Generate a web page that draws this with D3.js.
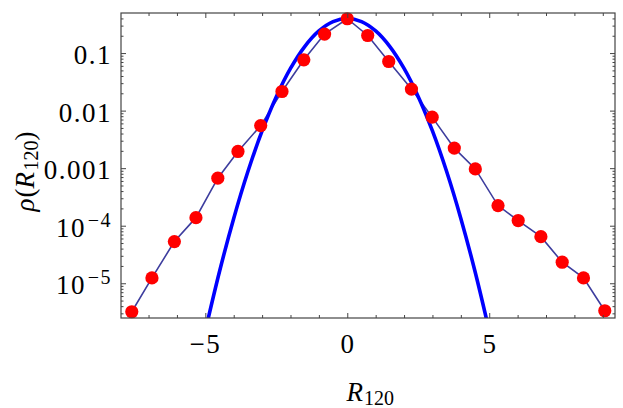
<!DOCTYPE html>
<html>
<head>
<meta charset="utf-8">
<script src="https://cdn.jsdelivr.net/npm/d3@7"></script>
</head>
<body style="margin:0">
<script>
// red sample points
const sampleX = [-7.59, -6.88, -6.09, -5.33, -4.56, -3.85, -3.05, -2.30, -1.53, -0.80, 0,
                 0.72, 1.46, 2.26, 2.99, 3.77, 4.51, 5.31, 6.02, 6.82, 7.57, 8.32, 9.07];
const sampleRho = [3.2e-6, 1.24e-5, 5.3e-5, 1.38e-4, 6.7e-4, 1.95e-3, 5.5e-3, 0.0215, 0.0764, 0.214, 0.395,
                   0.202, 0.0714, 0.0237, 7.7e-3, 2.23e-3, 9.7e-4, 2.24e-4, 1.23e-4, 6.46e-5, 2.32e-5, 1.24e-5, 3.33e-6];

// blue reference curve
const curveX = [-5, -4.5, -4, -3.5, -3, -2.5, -2, -1.5, -1, -0.5, 0, 0.5, 1, 1.5, 2, 2.5, 3, 3.5, 4, 4.5, 5];
const curveRho = [1.49e-6, 1.60e-5, 1.34e-4, 8.73e-4, 4.43e-3, 0.0175, 0.0540, 0.1295, 0.242, 0.352, 0.399,
                  0.352, 0.242, 0.1295, 0.0540, 0.0175, 4.43e-3, 8.73e-4, 1.34e-4, 1.60e-5, 1.49e-6];

const xTicks = [-5, 0, 5];
const xTickLabels = ['\u22125', '0', '5'];
const yTicks = [0.1, 0.01, 0.001, 1e-4, 1e-5];
const yTickLabels = [['0.1'], ['0.01'], ['0.001'], ['10', '\u22124'], ['10', '\u22125']];

const FONT = 'Liberation Serif';

let margin = { top: 13, left: 121, right: 8, bottom: 90 },
    W = 623, H = 408,
    width = W - margin.left - margin.right,
    height = H - margin.top - margin.bottom;

let svg = d3.select('body').append('svg')
  .attr('width', W).attr('height', H);

let xScale = d3.scaleLinear().domain([-7.97, 9.43]).range([margin.left, margin.left + width]);
let yScale = d3.scaleLog().domain([2.49e-6, 0.497]).range([margin.top + height, margin.top]);

svg.append('clipPath').attr('id', 'clip')
  .append('rect').attr('x', margin.left).attr('y', margin.top)
  .attr('width', width).attr('height', height);

let plot = svg.append('g').attr('clip-path', 'url(#clip)');

// connecting line
plot.append('path')
  .datum(sampleX.map((x, i) => [x, sampleRho[i]]))
  .attr('fill', 'none')
  .attr('stroke', '#3d3d9e')
  .attr('stroke-width', 1.6)
  .attr('d', d3.line().x(d => xScale(d[0])).y(d => yScale(d[1])));

// blue curve
plot.append('path')
  .datum(curveX.map((x, i) => [x, curveRho[i]]))
  .attr('fill', 'none')
  .attr('stroke', '#0000ff')
  .attr('stroke-width', 3.6)
  .attr('d', d3.line().curve(d3.curveCatmullRom.alpha(0.5)).x(d => xScale(d[0])).y(d => yScale(d[1])));

// points
svg.selectAll('.pt')
  .data(sampleX.map((x, i) => [x, sampleRho[i]]))
  .enter().append('circle')
  .attr('class', 'pt')
  .attr('cx', d => xScale(d[0]))
  .attr('cy', d => yScale(d[1]))
  .attr('r', 6.6)
  .attr('fill', '#ff0000');

// frame axes, ticks pointing inward
let frameColor = '#444';
let xMinor = d3.range(-7, 10, 1).filter(v => !xTicks.includes(v));
let yMinor = [];
for (let e = -6; e <= -1; e++) {
  for (let k = 2; k <= 9; k++) {
    let v = k * Math.pow(10, e);
    if (v > 2.49e-6 && v < 0.497) yMinor.push(v);
  }
}

function xAxis(gen, major) {
  return gen(xScale).tickValues(major ? xTicks : xMinor).tickFormat('')
    .tickSizeInner(major ? -5 : -3).tickSizeOuter(0);
}
function yAxis(gen, major) {
  return gen(yScale).tickValues(major ? yTicks : yMinor).tickFormat('')
    .tickSizeInner(major ? -5 : -2.5).tickSizeOuter(0);
}

let bottomY = margin.top + height, rightX = margin.left + width;
let axes = [
  svg.append('g').attr('transform', 'translate(0,' + bottomY + ')').call(xAxis(d3.axisBottom, true)),
  svg.append('g').attr('transform', 'translate(0,' + bottomY + ')').call(xAxis(d3.axisBottom, false)),
  svg.append('g').attr('transform', 'translate(0,' + margin.top + ')').call(xAxis(d3.axisTop, true)),
  svg.append('g').attr('transform', 'translate(0,' + margin.top + ')').call(xAxis(d3.axisTop, false)),
  svg.append('g').attr('transform', 'translate(' + margin.left + ',0)').call(yAxis(d3.axisLeft, true)),
  svg.append('g').attr('transform', 'translate(' + margin.left + ',0)').call(yAxis(d3.axisLeft, false)),
  svg.append('g').attr('transform', 'translate(' + rightX + ',0)').call(yAxis(d3.axisRight, true)),
  svg.append('g').attr('transform', 'translate(' + rightX + ',0)').call(yAxis(d3.axisRight, false))
];
axes.forEach(a => {
  a.selectAll('.domain').remove();
  a.selectAll('text').remove();
  a.selectAll('line').attr('stroke', frameColor).attr('stroke-width', 1);
});

svg.append('rect')
  .attr('x', margin.left).attr('y', margin.top)
  .attr('width', width).attr('height', height)
  .attr('fill', 'none').attr('stroke', frameColor).attr('stroke-width', 1.2);

// plain text helper, each piece its own text element
function label(x, y, str, size, anchor, italic) {
  return svg.append('text')
    .attr('x', x).attr('y', y)
    .attr('font-family', FONT)
    .attr('font-size', size)
    .attr('font-style', italic ? 'italic' : 'normal')
    .attr('text-anchor', anchor)
    .attr('fill', '#000')
    .text(str);
}

// x tick labels
xTicks.forEach((v, i) => label(xScale(v), bottomY + 35, xTickLabels[i], 27, 'middle', false)
  .attr('letter-spacing', i === 0 ? 1.5 : 0));

// y tick labels
yTicks.forEach((v, i) => {
  let parts = yTickLabels[i];
  let y = yScale(v) + 11;
  if (parts.length === 1) {
    label(margin.left - 9, y, parts[0], 27, 'end', false).attr('letter-spacing', 1.5);
  } else {
    label(margin.left - 9, y - 10, parts[1], 20, 'end', false).attr('letter-spacing', 1.5);
    label(margin.left - 35, y, parts[0], 27, 'end', false).attr('letter-spacing', 1.5);
  }
});

// x title
let cx = margin.left + width / 2;
label(cx - 5, 401, 'R', 27, 'end', true);
label(cx - 4, 405, '120', 20, 'start', false);

// y title, rotated
let yt = svg.append('g').attr('transform', 'translate(34,' + (margin.top + height / 2) + ') rotate(-90)');
function ylab(x, y, str, size, italic) {
  return yt.append('text').attr('x', x).attr('y', y)
    .attr('font-family', FONT).attr('font-size', size)
    .attr('font-style', italic ? 'italic' : 'normal')
    .attr('fill', '#000').text(str);
}
ylab(-46, 0, '\u03c1', 27, true);
ylab(-32, 0, '(', 27, false);
ylab(-23, 0, 'R', 27, true);
ylab(-5, 4, '120', 20, false);
ylab(25, 0, ')', 27, false);
</script>
</body>
</html>
